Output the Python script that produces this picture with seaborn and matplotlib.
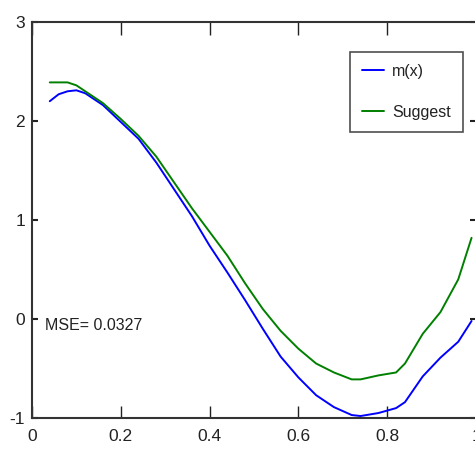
import matplotlib
matplotlib.use("Agg")
import matplotlib.pyplot as plt
import seaborn as sns
import pandas as pd

x = [0.04, 0.06, 0.08, 0.10, 0.12, 0.16, 0.20, 0.24, 0.28, 0.32, 0.36, 0.40, 0.44, 0.48,
     0.52, 0.56, 0.60, 0.64, 0.68, 0.72, 0.74, 0.78, 0.82, 0.84, 0.88, 0.92, 0.96, 0.99]
m_x = [2.20, 2.27, 2.30, 2.31, 2.28, 2.16, 1.99, 1.82, 1.58, 1.31, 1.04, 0.74, 0.47, 0.19,
       -0.10, -0.38, -0.59, -0.77, -0.89, -0.97, -0.98, -0.95, -0.90, -0.84, -0.58, -0.39, -0.23, -0.02]
suggest = [2.39, 2.39, 2.39, 2.36, 2.30, 2.18, 2.02, 1.85, 1.64, 1.38, 1.12, 0.88, 0.64, 0.36,
           0.10, -0.12, -0.30, -0.45, -0.54, -0.61, -0.61, -0.57, -0.54, -0.45, -0.15, 0.07, 0.40, 0.82]
series_names = ["m(x)", "Suggest"]
series_colors = ["#0000ff", "#008000"]
x_ticks = [0, 0.2, 0.4, 0.6, 0.8, 1]
x_tick_labels = ["0", "0.2", "0.4", "0.6", "0.8", "1"]
y_ticks = [-1, 0, 1, 2, 3]
y_tick_labels = ["-1", "0", "1", "2", "3"]
mse_text = "MSE= 0.0327"

df = pd.DataFrame({
    "x": x * 2,
    "y": m_x + suggest,
    "series": [series_names[0]] * len(x) + [series_names[1]] * len(x),
})

sns.set_style("white")
plt.rcParams["font.family"] = ["Liberation Sans", "DejaVu Sans"]

fig = plt.figure(figsize=(4.75, 4.57), dpi=100)
ax = fig.add_axes([32 / 475, 39 / 457, 444 / 475, 396 / 457])

sns.lineplot(data=df, x="x", y="y", hue="series", palette=series_colors,
             linewidth=1.4, ax=ax, legend=True)

ax.set_xlim(0, 1)
ax.set_ylim(-1, 3)
ax.set_xticks(x_ticks)
ax.set_xticklabels(x_tick_labels)
ax.set_yticks(y_ticks)
ax.set_yticklabels(y_tick_labels)
ax.set_xlabel("")
ax.set_ylabel("")

for s in ax.spines.values():
    s.set_visible(True)
    s.set_color("#333333")
    s.set_linewidth(1.5)

ax.tick_params(axis="x", which="both", direction="in", length=9, width=1.0,
               top=True, bottom=True, labelsize=12.5, pad=8, colors="#222222")
ax.tick_params(axis="y", which="both", direction="in", length=4, width=1.5,
               left=True, right=True, labelsize=12.5, pad=5, colors="#222222")

ax.text(0.03, -0.07, mse_text, ha="left", va="center", fontsize=11.5, color="#222222")

leg = ax.legend(loc="upper right", bbox_to_anchor=(0.971, 0.924), borderaxespad=0,
                fancybox=False, frameon=True, fontsize=11.5, handlelength=1.4,
                handletextpad=0.5, labelspacing=1.6, borderpad=0.75)
leg.get_frame().set_edgecolor("#222222")
leg.get_frame().set_linewidth(1.2)
for t in leg.get_texts():
    t.set_color("#222222")

fig.savefig("out.png", dpi=100)
